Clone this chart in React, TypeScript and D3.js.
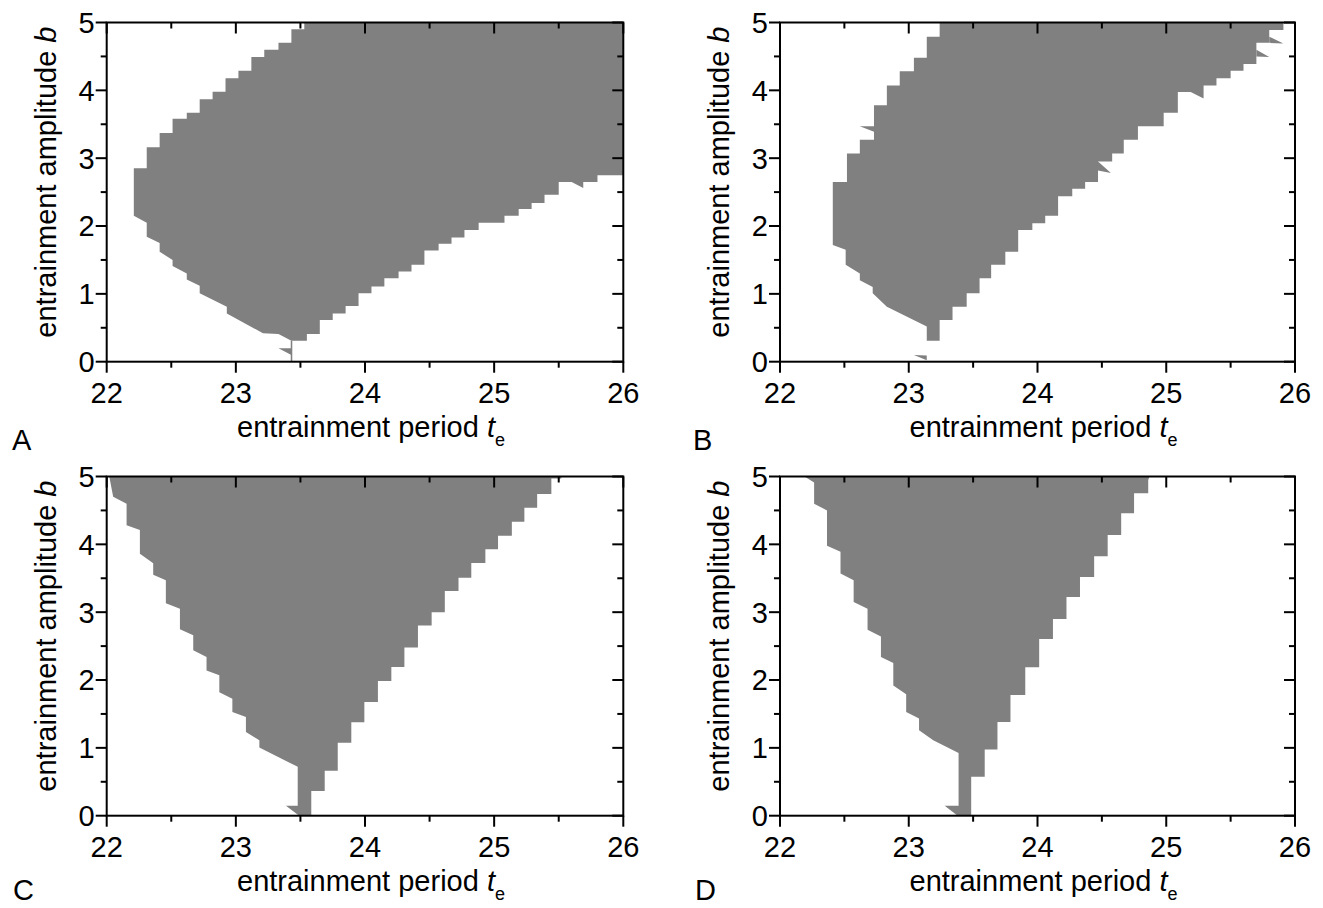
import React from 'react';
import * as d3 from 'd3';

type Pt = [number, number];

const teMajor = [22, 23, 24, 25, 26];
const teMinor = [22.5, 23.5, 24.5, 25.5];
const bMajor = [0, 1, 2, 3, 4, 5];
const bMinor = [0.5, 1.5, 2.5, 3.5, 4.5];

// Panel A: entrainment region outline (te, b)
const regionA: Pt[] = [
  [22.21, 2.15], [22.21, 2.85], [22.31, 2.85], [22.31, 3.16], [22.41, 3.16], [22.41, 3.37], [22.51, 3.37],
  [22.51, 3.58], [22.62, 3.58], [22.62, 3.67], [22.72, 3.67], [22.72, 3.87], [22.82, 3.87], [22.82, 3.98],
  [22.92, 3.98], [22.92, 4.18], [23.02, 4.18], [23.02, 4.29], [23.12, 4.29], [23.12, 4.49], [23.22, 4.49],
  [23.22, 4.6], [23.33, 4.6], [23.33, 4.7], [23.43, 4.7], [23.43, 4.9], [23.53, 4.9], [23.53, 5],
  [26, 5], [26, 2.75], [25.8, 2.75], [25.8, 2.65], [25.5, 2.65], [25.5, 2.46], [25.39, 2.46], [25.39, 2.34],
  [25.29, 2.34], [25.29, 2.25], [25.19, 2.25], [25.19, 2.15], [25.08, 2.15], [25.08, 2.05], [24.88, 2.05],
  [24.88, 1.94], [24.77, 1.94], [24.77, 1.83], [24.67, 1.83], [24.67, 1.74], [24.57, 1.74], [24.57, 1.64],
  [24.46, 1.64], [24.46, 1.43], [24.36, 1.43], [24.36, 1.33], [24.26, 1.33], [24.26, 1.23], [24.15, 1.23],
  [24.15, 1.11], [24.05, 1.11], [24.05, 1.01], [23.95, 1.01], [23.95, 0.82], [23.85, 0.82], [23.85, 0.71],
  [23.75, 0.71], [23.75, 0.615], [23.65, 0.615], [23.65, 0.41], [23.55, 0.41], [23.55, 0.31], [23.43, 0.31],
  [23.33, 0.41], [23.21, 0.42], [22.93, 0.71], [22.93, 0.81], [22.72, 1.01], [22.72, 1.12], [22.62, 1.21],
  [22.62, 1.3], [22.51, 1.41], [22.51, 1.5], [22.41, 1.62], [22.41, 1.75], [22.31, 1.84], [22.31, 2.05],
];
const sliversA: Pt[][] = [
  [[23.33, 0.2], [23.43, 0.2], [23.43, 0.1]],
  [[23.425, 0.31], [23.437, 0.31], [23.437, 0], [23.425, 0]],
  [[25.6, 2.65], [25.69, 2.65], [25.69, 2.56]],
];

// Panel B
const regionB: Pt[] = [
  [22.41, 1.72], [22.41, 2.65], [22.52, 2.65], [22.52, 3.07], [22.62, 3.07], [22.62, 3.27], [22.73, 3.27],
  [22.73, 3.78], [22.83, 3.78], [22.83, 4.07], [22.93, 4.07], [22.93, 4.28], [23.04, 4.28], [23.04, 4.48],
  [23.14, 4.48], [23.14, 4.79], [23.24, 4.79], [23.24, 5],
  [25.91, 5], [25.91, 4.89], [25.8, 4.89], [25.8, 4.7], [25.7, 4.7], [25.7, 4.39], [25.6, 4.39], [25.6, 4.29],
  [25.5, 4.29], [25.5, 4.18], [25.39, 4.18], [25.39, 4.07], [25.29, 4.07], [25.29, 3.975], [25.09, 3.975],
  [25.09, 3.67], [24.98, 3.67], [24.98, 3.47], [24.78, 3.47], [24.78, 3.27], [24.67, 3.27], [24.67, 3.07],
  [24.58, 3.07], [24.58, 2.95], [24.47, 2.95], [24.47, 2.65], [24.37, 2.65], [24.37, 2.55], [24.27, 2.55],
  [24.27, 2.44], [24.16, 2.44], [24.16, 2.15], [24.06, 2.15], [24.06, 2.04], [23.96, 2.04], [23.96, 1.94],
  [23.85, 1.94], [23.85, 1.62], [23.75, 1.62], [23.75, 1.43], [23.64, 1.43], [23.64, 1.23], [23.55, 1.23],
  [23.55, 1.01], [23.45, 1.01], [23.45, 0.81], [23.34, 0.81], [23.34, 0.615], [23.24, 0.615], [23.24, 0.31],
  [23.14, 0.31], [23.14, 0.52], [22.83, 0.81], [22.72, 1.01], [22.72, 1.1], [22.62, 1.2], [22.62, 1.3],
  [22.51, 1.43], [22.51, 1.65],
];
const sliversB: Pt[][] = [
  [[22.62, 3.47], [22.73, 3.47], [22.73, 3.39]],
  [[24.47, 2.95], [24.47, 2.82], [24.57, 2.78]],
  [[25.19, 3.975], [25.29, 3.975], [25.29, 3.88]],
  [[25.7, 4.6], [25.7, 4.5], [25.8, 4.49]],
  [[25.8, 4.79], [25.8, 4.7], [25.91, 4.69]],
  [[23.04, 0.1], [23.14, 0.09], [23.14, 0.02]],
];

// Panel C
const regionC: Pt[] = [
  [22.02, 5], [25.52, 5], [25.52, 4.97], [25.443, 4.97], [25.443, 4.743], [25.333, 4.743], [25.333, 4.541],
  [25.234, 4.541], [25.234, 4.333], [25.137, 4.333], [25.137, 4.126], [25.03, 4.126], [25.03, 3.928],
  [24.932, 3.928], [24.932, 3.726], [24.823, 3.726], [24.823, 3.509], [24.724, 3.509], [24.724, 3.311],
  [24.618, 3.311], [24.618, 3.0], [24.516, 3.0], [24.516, 2.802], [24.41, 2.802], [24.41, 2.481],
  [24.305, 2.481], [24.305, 2.191], [24.204, 2.191], [24.204, 1.985], [24.1, 1.985],
  [24.1, 1.676], [23.995, 1.676], [23.995, 1.377], [23.894, 1.377], [23.894, 1.074], [23.789, 1.074],
  [23.789, 0.662], [23.688, 0.662], [23.688, 0.363], [23.584, 0.363], [23.584, 0], [23.49, 0],
  [23.388, 0.147], [23.479, 0.147], [23.479, 0.72], [23.182, 1.005], [23.182, 1.113], [23.078, 1.235],
  [23.078, 1.456], [22.973, 1.53], [22.973, 1.725], [22.872, 1.82], [22.872, 2.07], [22.773, 2.14],
  [22.773, 2.34], [22.67, 2.44], [22.67, 2.66], [22.567, 2.75], [22.567, 3.05], [22.458, 3.13],
  [22.458, 3.47], [22.36, 3.55], [22.36, 3.72], [22.257, 3.86], [22.257, 4.21], [22.154, 4.28],
  [22.154, 4.6], [22.05, 4.7],
];
const sliversC: Pt[][] = [];

// Panel D
const regionD: Pt[] = [
  [22.19, 5], [24.87, 5], [24.86, 4.95], [24.86, 4.753], [24.75, 4.753], [24.75, 4.457], [24.65, 4.457],
  [24.65, 4.136], [24.545, 4.136], [24.545, 3.825], [24.44, 3.825], [24.44, 3.519], [24.33, 3.519],
  [24.33, 3.222], [24.225, 3.222], [24.225, 2.901], [24.12, 2.901], [24.12, 2.605], [24.013, 2.605],
  [24.013, 2.19], [23.905, 2.19], [23.905, 1.78], [23.79, 1.78], [23.79, 1.382], [23.689, 1.382],
  [23.689, 0.975], [23.59, 0.975], [23.59, 0.574], [23.485, 0.574], [23.485, 0], [23.38, 0],
  [23.279, 0.147], [23.387, 0.147], [23.387, 0.926], [23.19, 1.113], [23.08, 1.26], [23.08, 1.431],
  [22.98, 1.529], [22.98, 1.79], [22.88, 1.92], [22.88, 2.25], [22.784, 2.34], [22.784, 2.64],
  [22.68, 2.74], [22.68, 3.05], [22.572, 3.15], [22.572, 3.47], [22.47, 3.57], [22.47, 3.89],
  [22.365, 3.98], [22.365, 4.5], [22.265, 4.6], [22.265, 4.91],
];
const sliversD: Pt[][] = [];

const FONT = '"Liberation Sans", Arial, Helvetica, sans-serif';
const GREY = '#808080';

interface PanelProps {
  left: number;
  top: number;
  width: number;
  height: number;
  region: Pt[];
  slivers: Pt[][];
  letter: string;
  letterX: number;
  letterY: number;
}

function Panel({ left, top, width, height, region, slivers, letter, letterX, letterY }: PanelProps) {
  const x = d3.scaleLinear().domain([22, 26]).range([left, left + width]);
  const y = d3.scaleLinear().domain([0, 5]).range([top + height, top]);
  const line = d3.line<Pt>().x((d) => x(d[0])).y((d) => y(d[1]));
  const bottom = top + height;
  const right = left + width;
  const maj = 11;
  const min = 6;
  const cx = left + width / 2;
  const cy = top + height / 2;
  return (
    <g>
      <path d={(line(region) || '') + 'Z'} fill={GREY} />
      {slivers.map((s, i) => (
        <path key={i} d={(line(s) || '') + 'Z'} fill={GREY} />
      ))}
      <rect x={left} y={top} width={width} height={height} fill="none" stroke="#000" strokeWidth={2} />
      {teMajor.map((t) => (
        <g key={'tx' + t}>
          <line x1={x(t)} x2={x(t)} y1={bottom} y2={bottom + maj} stroke="#000" strokeWidth={2} />
          <line x1={x(t)} x2={x(t)} y1={top} y2={top + maj} stroke="#000" strokeWidth={2} />
          <text x={x(t)} y={bottom + 41.5} fontSize={29} textAnchor="middle" fontFamily={FONT}>
            {t}
          </text>
        </g>
      ))}
      {teMinor.map((t) => (
        <g key={'tm' + t}>
          <line x1={x(t)} x2={x(t)} y1={bottom} y2={bottom + min} stroke="#000" strokeWidth={2} />
          <line x1={x(t)} x2={x(t)} y1={top} y2={top + min} stroke="#000" strokeWidth={2} />
        </g>
      ))}
      {bMajor.map((b) => (
        <g key={'by' + b}>
          <line x1={left - maj} x2={left} y1={y(b)} y2={y(b)} stroke="#000" strokeWidth={2} />
          <line x1={right - maj} x2={right} y1={y(b)} y2={y(b)} stroke="#000" strokeWidth={2} />
          <text x={left - 12} y={y(b)} dy="0.36em" fontSize={29} textAnchor="end" fontFamily={FONT}>
            {b}
          </text>
        </g>
      ))}
      {bMinor.map((b) => (
        <g key={'bm' + b}>
          <line x1={left - min} x2={left} y1={y(b)} y2={y(b)} stroke="#000" strokeWidth={2} />
          <line x1={right - min} x2={right} y1={y(b)} y2={y(b)} stroke="#000" strokeWidth={2} />
        </g>
      ))}
      <text x={cx + 6} y={bottom + 75} fontSize={29} textAnchor="middle" fontFamily={FONT}>
        <tspan>entrainment period </tspan>
        <tspan fontStyle="italic">t</tspan>
        <tspan fontSize={18} dy={9}>e</tspan>
      </text>
      <text
        transform={`translate(${left - 51},${cy - 10}) rotate(-90)`}
        fontSize={29}
        textAnchor="middle"
        fontFamily={FONT}
      >
        <tspan>entrainment amplitude </tspan>
        <tspan fontStyle="italic">b</tspan>
      </text>
      <text x={letterX} y={letterY} fontSize={29} fontFamily={FONT}>
        {letter}
      </text>
    </g>
  );
}

export default function App() {
  const W = 1323;
  const H = 908;
  return (
    <svg
      width={W}
      height={H}
      viewBox={`0 0 ${W} ${H}`}
      style={{ position: 'absolute', left: 0, top: 0, background: '#fff' }}
    >
      <rect x={0} y={0} width={W} height={H} fill="#fff" />
      <Panel left={106.7} top={22.5} width={516.6} height={339.2} region={regionA} slivers={sliversA} letter="A" letterX={12} letterY={450} />
      <Panel left={780} top={22.5} width={515} height={339.2} region={regionB} slivers={sliversB} letter="B" letterX={693} letterY={450} />
      <Panel left={106.7} top={476.5} width={516.6} height={339.2} region={regionC} slivers={sliversC} letter="C" letterX={13} letterY={900} />
      <Panel left={780} top={476.5} width={515} height={339.2} region={regionD} slivers={sliversD} letter="D" letterX={695} letterY={900} />
    </svg>
  );
}
